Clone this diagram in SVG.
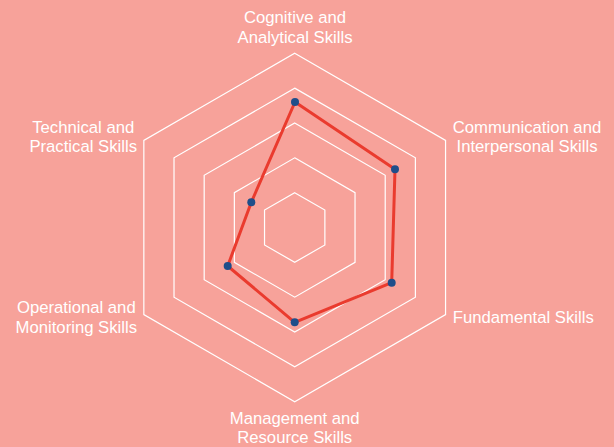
<svg xmlns="http://www.w3.org/2000/svg" width="614" height="447" viewBox="0 0 614 447">
  <style>
    .ring { fill: none; stroke: #ffffff; stroke-width: 1.2; stroke-linejoin: miter; }
    .lbl { font-family: "Liberation Sans", Arial, sans-serif; font-size: 16.7px; fill: #ffffff; text-anchor: middle; }
    .series { fill: none; stroke: #EA3B2E; stroke-width: 3; stroke-linejoin: round; }
    .pt { fill: #1F4E8A; }
  </style>
  <rect x="0" y="0" width="614" height="447" fill="#F7A29A"/>
  <g id="grid">
    <polygon class="ring" points="294.7,53.3 445.56,140.4 445.56,314.6 294.7,401.7 143.84,314.6 143.84,140.4"/>
    <polygon class="ring" points="294.7,88.14 415.39,157.82 415.39,297.18 294.7,366.86 174.01,297.18 174.01,157.82"/>
    <polygon class="ring" points="294.7,122.98 385.22,175.24 385.22,279.76 294.7,332.02 204.18,279.76 204.18,175.24"/>
    <polygon class="ring" points="294.7,157.82 355.04,192.66 355.04,262.34 294.7,297.18 234.36,262.34 234.36,192.66"/>
    <polygon class="ring" points="294.7,192.66 324.87,210.08 324.87,244.92 294.7,262.34 264.53,244.92 264.53,210.08"/>
  </g>
  <g id="label-cognitive">
    <text class="lbl" x="295" y="23">Cognitive and</text>
    <text class="lbl" x="295" y="42.5">Analytical Skills</text>
  </g>
  <g id="label-communication">
    <text class="lbl" x="527" y="132.5">Communication and</text>
    <text class="lbl" x="527" y="152">Interpersonal Skills</text>
  </g>
  <g id="label-fundamental">
    <text class="lbl" x="523.3" y="323.3">Fundamental Skills</text>
  </g>
  <g id="label-management">
    <text class="lbl" x="294.7" y="424">Management and</text>
    <text class="lbl" x="294.7" y="443">Resource Skills</text>
  </g>
  <g id="label-operational">
    <text class="lbl" x="76.3" y="313.3">Operational and</text>
    <text class="lbl" x="76.3" y="332.7">Monitoring Skills</text>
  </g>
  <g id="label-technical">
    <text class="lbl" x="83.2" y="132.5">Technical and</text>
    <text class="lbl" x="83.2" y="152">Practical Skills</text>
  </g>
  <g id="series">
    <polygon class="series" points="295,102 395,169.3 391.7,282.7 294.7,322.3 227.7,266 251.3,202.3"/>
    <circle class="pt" cx="295" cy="102" r="4"/>
    <circle class="pt" cx="395" cy="169.3" r="4"/>
    <circle class="pt" cx="391.7" cy="282.7" r="4"/>
    <circle class="pt" cx="294.7" cy="322.3" r="4"/>
    <circle class="pt" cx="227.7" cy="266" r="4"/>
    <circle class="pt" cx="251.3" cy="202.3" r="4"/>
  </g>
</svg>
